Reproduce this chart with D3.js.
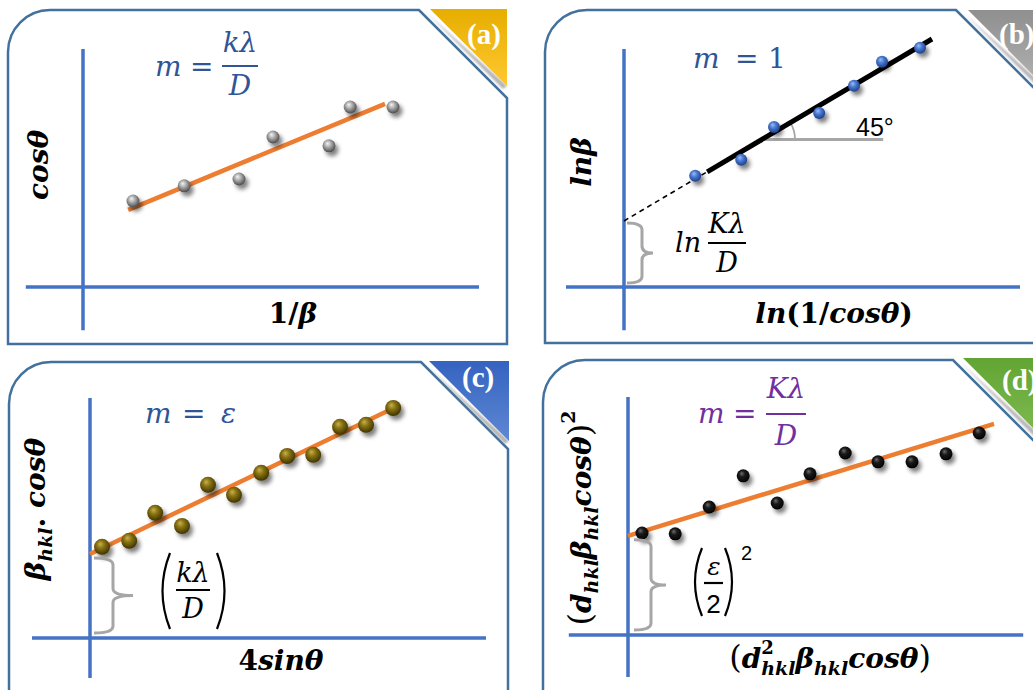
<!DOCTYPE html>
<html><head><meta charset="utf-8">
<script src="https://cdn.jsdelivr.net/npm/d3@7/dist/d3.min.js"></script>
<style>
html,body{margin:0;padding:0;background:#fff;}
svg{display:block;}
text{white-space:pre;}
</style></head><body>
<svg id="chart" width="1033" height="690"></svg>
<script>
// ---------- values ----------
const panelTags = ["(a)", "(b)", "(c)", "(d)"];

// (a) Scherrer plot: cosθ against 1/β
const invBeta   = [1.25, 2.53, 3.90, 4.75, 6.15, 6.68, 7.75];
const cosTheta  = [2.15, 2.53, 2.70, 3.75, 3.53, 4.50, 4.50];
const fitA_x = [1.13, 7.55], fitA_y = [1.93, 4.58];

// (b) modified Scherrer: lnβ against ln(1/cosθ)
const lnInvCos = [1.78, 2.93, 3.75, 4.88, 5.75, 6.45, 7.40];
const lnBeta   = [2.78, 3.18, 4.00, 4.35, 5.03, 5.63, 5.98];
const fitB_x = [2.08, 7.70], fitB_y = [2.88, 6.20];
const angleMarkB_x = [3.45, 6.48];

// (c) Williamson–Hall: β·cosθ against 4sinθ
const fourSin = [0.30, 0.98, 1.63, 2.30, 2.95, 3.60, 4.28, 4.93, 5.58, 6.25, 6.90, 7.58];
const betaCos = [2.28, 2.43, 3.13, 2.80, 3.83, 3.58, 4.13, 4.55, 4.58, 5.28, 5.33, 5.75];
const fitC_x = [0, 7.45], fitC_y = [2.10, 5.68];

// (d) size–strain plot
const d2BetaCos  = [0.35, 1.18, 2.03, 2.88, 3.73, 4.55, 5.43, 6.25, 7.10, 7.95, 8.78];
const dBetaCosSq = [2.55, 2.53, 3.20, 3.98, 3.30, 4.03, 4.55, 4.33, 4.33, 4.53, 5.05];
const fitD_x = [0, 9.15], fitD_y = [2.48, 5.28];

// ---------- styling / layout ----------
const COL = {axis:"#4472C4", frame:"#41719C", orange:"#ED7D31", brace:"#A6A6A6",
             blue:"#2F5597", purple:"#7030A0"};
const SERIF = "'DejaVu Serif', serif";
const SANS = "'Liberation Sans', Arial, sans-serif";

const svg = d3.select("#chart");
const defs = svg.append("defs");

// soft shadow under the markers
const f = defs.append("filter").attr("id","dotShadow").attr("x","-80%").attr("y","-80%").attr("width","260%").attr("height","260%");
f.append("feGaussianBlur").attr("in","SourceAlpha").attr("stdDeviation",2.2).attr("result","b");
f.append("feOffset").attr("in","b").attr("dx",3).attr("dy",4).attr("result","o");
f.append("feComponentTransfer").attr("in","o").attr("result","s")
  .append("feFuncA").attr("type","linear").attr("slope",0.5);
const fm = f.append("feMerge");
fm.append("feMergeNode").attr("in","s");
fm.append("feMergeNode").attr("in","SourceGraphic");

// tag shadow
const ts = defs.append("filter").attr("id","tagShadow").attr("x","-20%").attr("y","-20%").attr("width","140%").attr("height","140%");
ts.append("feGaussianBlur").attr("stdDeviation",0.8);

function sphere(id, stops) {
  const g = defs.append("radialGradient").attr("id", id)
    .attr("cx","45%").attr("cy","40%").attr("r","60%").attr("fx","38%").attr("fy","32%");
  stops.forEach(([o,c]) => g.append("stop").attr("offset",o).attr("stop-color",c));
}
sphere("gGray",  [["0%","#f4f4f4"],["45%","#a8a8a8"],["100%","#4a4a4a"]]);
sphere("gBlue",  [["0%","#9dbcf5"],["45%","#4677d0"],["100%","#1f3f85"]]);
sphere("gGold",  [["0%","#c9b24a"],["40%","#8a7414"],["100%","#3f3300"]]);
sphere("gBlack", [["0%","#6a6a6a"],["40%","#1a1a1a"],["100%","#000"]]);

function lin(id, c0, c1) {
  const g = defs.append("linearGradient").attr("id", id).attr("x1",0).attr("y1",0).attr("x2",0).attr("y2",1);
  g.append("stop").attr("offset","0%").attr("stop-color",c0);
  g.append("stop").attr("offset","100%").attr("stop-color",c1);
}
lin("tA","#E6AE00","#FFC830");
lin("tB","#8f8f8f","#b3b3b3");
lin("tC","#3463C0","#5F88D3");
lin("tD","#62A534","#80BA52");

const panels = [
  {key:"a", origin:[83,287],  xExt:[-1.43,9.9],  yExt:[-1.08,5.95],
   frame:{l:8,  t:10,  r:507,  b:344, cut:419}, tri:{x0:430, y:9,   x1:507,  fill:"url(#tA)"}, tagPos:[467,44]},
  {key:"b", origin:[624,287], xExt:[-1.45,9.9],  yExt:[-1.08,5.95],
   frame:{l:545,t:10,  r:1080, b:343, cut:956}, tri:{x0:968, y:10,  x1:1045, fill:"url(#tB)"}, tagPos:[999,44]},
  {key:"c", origin:[90,638],  xExt:[-1.45,9.9],  yExt:[-1.0,6.0],
   frame:{l:9,  t:362, r:508,  b:720, cut:421}, tri:{x0:429, y:361, x1:509,  fill:"url(#tC)"}, tagPos:[462,387]},
  {key:"d", origin:[628,635], xExt:[-1.48,9.88], yExt:[-1.05,5.95],
   frame:{l:543,t:360, r:1080, b:720, cut:953}, tri:{x0:963, y:358, x1:1043, fill:"url(#tD)"}, tagPos:[1002,390]},
];
panels.forEach(p => {
  p.x = d3.scaleLinear().domain([0,10]).range([p.origin[0], p.origin[0] + 400]);
  p.y = d3.scaleLinear().domain([0,10]).range([p.origin[1], p.origin[1] - 400]);
});
const P = Object.fromEntries(panels.map(p => [p.key, p]));

// ---------- helpers ----------
// Lays out a row of math runs (italic/bold/sub/sup), optionally rotated, centred on (x,y) baseline.
function mathText(parent, runs, o) {
  const g = parent.append("g").attr("transform", `translate(${o.x},${o.y}) rotate(${o.rotate||0})`);
  const inner = g.append("g");
  let x = 0, stackX = null, stackW = 0;
  runs.forEach(r => {
    const t = inner.append("text")
      .attr("x", stackX !== null ? stackX : x)
      .attr("y", r.shift || 0)
      .attr("font-family", r.font || SERIF)
      .attr("font-size", r.size || o.size)
      .attr("font-style", r.up ? "normal" : "italic")
      .attr("font-weight", (r.bold !== undefined ? r.bold : o.bold) ? "bold" : "normal")
      .attr("fill", o.color || "#000")
      .text(r.t);
    const w = t.node().getComputedTextLength();
    if (r.stack) { stackX = x; stackW = w; }
    else if (stackX !== null) { x = stackX + Math.max(stackW, w) + (r.kern||0); stackX = null; }
    else x += w + (r.kern || 0);
  });
  if (o.anchor !== "start") inner.attr("transform", `translate(${-x/2},0)`);
  return g;
}
function brace(parent, x0, yTop, yBot, x1, x2) {
  const ym = (yTop + yBot) / 2, r = 7;
  parent.append("path")
    .attr("d", `M${x0},${yTop} Q${x1},${yTop} ${x1},${yTop+r} L${x1},${ym-r} Q${x1},${ym} ${x2},${ym}
                Q${x1},${ym} ${x1},${ym+r} L${x1},${yBot-r} Q${x1},${yBot} ${x0},${yBot}`)
    .attr("fill","none").attr("stroke",COL.brace).attr("stroke-width",3);
}
function fraction(parent, cx, numBase, barY, denBase, barHalf, num, den, color, size) {
  parent.append("text").attr("x",cx).attr("y",numBase).attr("text-anchor","middle")
    .attr("font-family",SERIF).attr("font-style","italic").attr("font-size",size).attr("fill",color).text(num);
  parent.append("line").attr("x1",cx-barHalf).attr("x2",cx+barHalf).attr("y1",barY).attr("y2",barY)
    .attr("stroke",color).attr("stroke-width",2.2);
  parent.append("text").attr("x",cx).attr("y",denBase).attr("text-anchor","middle")
    .attr("font-family",SERIF).attr("font-style","italic").attr("font-size",size).attr("fill",color).text(den);
}
function plain(parent, x, y, s, o) {
  return parent.append("text").attr("x",x).attr("y",y)
    .attr("font-family", o.font || SERIF).attr("font-size", o.size)
    .attr("font-style", o.up ? "normal" : "italic").attr("fill", o.color || "#000")
    .attr("text-anchor", o.anchor || "start").text(s);
}

// ---------- frames, corner tags, axes ----------
panels.forEach((p, i) => {
  const fr = p.frame, R = 42;
  svg.append("path")
    .attr("d", `M${fr.l},${fr.b} L${fr.l},${fr.t+R} A${R},${R} 0 0 1 ${fr.l+R},${fr.t}
                L${fr.cut},${fr.t} L${fr.r},${fr.t + (fr.r - fr.cut)} L${fr.r},${fr.b} Z`)
    .attr("fill","none").attr("stroke",COL.frame).attr("stroke-width",2.5);

  const t = p.tri, h = t.x1 - t.x0;
  svg.append("path").attr("d", `M${t.x0-4},${t.y+3} L${t.x1-4},${t.y+h+3} L${t.x1},${t.y+h} Z`)
    .attr("fill","#9a9a9a").attr("opacity",0.75).attr("filter","url(#tagShadow)");
  svg.append("path").attr("d", `M${t.x0},${t.y} L${t.x1},${t.y} L${t.x1},${t.y+h} Z`).attr("fill", t.fill);
  svg.append("text").attr("x",p.tagPos[0]).attr("y",p.tagPos[1])
    .attr("font-family","'Liberation Serif', serif").attr("font-weight","bold").attr("font-size",29)
    .attr("fill","#fff").text(panelTags[i]);

  // axes
  svg.append("line").attr("x1",p.x(p.xExt[0])).attr("x2",p.x(p.xExt[1])).attr("y1",p.y(0)).attr("y2",p.y(0))
    .attr("stroke",COL.axis).attr("stroke-width",3.5);
  svg.append("line").attr("x1",p.x(0)).attr("x2",p.x(0)).attr("y1",p.y(p.yExt[0])).attr("y2",p.y(p.yExt[1]))
    .attr("stroke",COL.axis).attr("stroke-width",3.5);
});

function fitLine(p, xs, ys, color, width) {
  svg.append("line").attr("x1",p.x(xs[0])).attr("y1",p.y(ys[0])).attr("x2",p.x(xs[1])).attr("y2",p.y(ys[1]))
    .attr("stroke",color).attr("stroke-width",width);
}
function dots(p, xs, ys, fill, r) {
  svg.append("g").selectAll("circle").data(xs.map((x,i)=>[x,ys[i]])).join("circle")
    .attr("cx",d=>p.x(d[0])).attr("cy",d=>p.y(d[1])).attr("r",r)
    .attr("fill",fill).attr("filter","url(#dotShadow)");
}

const LBL = {size:28, bold:true};

// ---------- (a) ----------
{
  const p = P.a;
  fitLine(p, fitA_x, fitA_y, COL.orange, 4.5);
  dots(p, invBeta, cosTheta, "url(#gGray)", 6.5);
  plain(svg, 155, 76, "m", {size:28, color:COL.blue});
  plain(svg, 190, 76, "=", {size:28, color:COL.blue, up:true});
  fraction(svg, 240, 52, 66, 95, 18, "kλ", "D", COL.blue, 28);
  mathText(svg, [{t:"cosθ"}], {...LBL, x:48, y:165, rotate:-90});
  mathText(svg, [{t:"1/", up:true}, {t:"β"}], {...LBL, x:293, y:323});
}

// ---------- (b) ----------
{
  const p = P.b;
  const slope = (fitB_y[1]-fitB_y[0])/(fitB_x[1]-fitB_x[0]);
  const icpt = fitB_y[0] - slope*fitB_x[0];
  // extrapolation to the intercept
  svg.append("line").attr("x1",p.x(0)).attr("y1",p.y(icpt)).attr("x2",p.x(fitB_x[0])).attr("y2",p.y(fitB_y[0]))
    .attr("stroke","#000").attr("stroke-width",1.6).attr("stroke-dasharray","5,4");
  // angle marker
  const ay = icpt + slope*angleMarkB_x[0];
  svg.append("line").attr("x1",p.x(angleMarkB_x[0])).attr("x2",p.x(angleMarkB_x[1])).attr("y1",p.y(ay)).attr("y2",p.y(ay))
    .attr("stroke","#A6A6A6").attr("stroke-width",3);
  const cx = p.x(angleMarkB_x[0]), cy = p.y(ay), ar = 33, ang = Math.atan(slope);
  svg.append("path").attr("d", `M${cx+ar},${cy} A${ar},${ar} 0 0 0 ${cx+ar*Math.cos(ang)},${cy-ar*Math.sin(ang)}`)
    .attr("fill","none").attr("stroke","#A6A6A6").attr("stroke-width",1.8);
  fitLine(p, fitB_x, fitB_y, "#000", 5);
  dots(p, lnInvCos, lnBeta, "url(#gBlue)", 6);
  plain(svg, 856, 136, "45°", {size:25, font:SANS, up:true});

  plain(svg, 693, 68, "m", {size:28, color:COL.blue});
  plain(svg, 735, 68, "=", {size:28, color:COL.blue, up:true});
  plain(svg, 768, 68, "1", {size:28, color:COL.blue, up:true});

  brace(svg, p.x(0)+3, p.y(icpt)+2, p.y(0)-4, p.x(0)+18, p.x(0)+29);
  plain(svg, 675, 252, "ln", {size:27});
  fraction(svg, 727, 233, 243, 272, 19, "Kλ", "D", "#000", 27);

  mathText(svg, [{t:"lnβ"}], {...LBL, x:591, y:162, rotate:-90});
  mathText(svg, [{t:"ln"}, {t:"(1/", up:true}, {t:"cosθ"}, {t:")", up:true}], {...LBL, x:834, y:323});
}

// ---------- (c) ----------
{
  const p = P.c;
  fitLine(p, fitC_x, fitC_y, COL.orange, 4.5);
  dots(p, fourSin, betaCos, "url(#gGold)", 8);
  plain(svg, 145, 423, "m", {size:28, color:COL.blue});
  plain(svg, 182, 423, "=", {size:28, color:COL.blue, up:true});
  plain(svg, 221, 423, "ε", {size:28, color:COL.blue});

  brace(svg, p.x(0)+4, p.y(fitC_y[0])+4, p.y(0)-5, p.x(0)+23, p.x(0)+43);
  fraction(svg, 193, 582, 590, 618, 17, "kλ", "D", "#000", 27);
  svg.append("path").attr("d","M170,553 Q155,591 170,629").attr("fill","none").attr("stroke","#000").attr("stroke-width",2.2);
  svg.append("path").attr("d","M217,553 Q232,591 217,629").attr("fill","none").attr("stroke","#000").attr("stroke-width",2.2);

  mathText(svg, [{t:"β"}, {t:"hkl", size:19, shift:7}, {t:". ", up:true}, {t:"cosθ"}],
           {...LBL, x:45, y:509, rotate:-90});
  mathText(svg, [{t:"4", up:true}, {t:"sinθ"}], {...LBL, x:281, y:670});
}

// ---------- (d) ----------
{
  const p = P.d;
  fitLine(p, fitD_x, fitD_y, COL.orange, 4.5);
  dots(p, d2BetaCos, dBetaCosSq, "url(#gBlack)", 6.5);
  plain(svg, 698, 423, "m", {size:28, color:COL.purple});
  plain(svg, 733, 423, "=", {size:28, color:COL.purple, up:true});
  fraction(svg, 786, 398, 414, 445, 20, "Kλ", "D", COL.purple, 28);

  brace(svg, p.x(0)+6, p.y(fitD_y[0])+4, p.y(0)-5, p.x(0)+23, p.x(0)+38);
  plain(svg, 714, 575, "ε", {size:25, anchor:"middle"});
  svg.append("line").attr("x1",704).attr("x2",723).attr("y1",583).attr("y2",583).attr("stroke","#000").attr("stroke-width",2.2);
  plain(svg, 713.5, 613, "2", {size:26, font:SANS, up:true, anchor:"middle"});
  svg.append("path").attr("d","M702,548 Q688,582 702,616").attr("fill","none").attr("stroke","#000").attr("stroke-width",2.2);
  svg.append("path").attr("d","M725,548 Q739,582 725,616").attr("fill","none").attr("stroke","#000").attr("stroke-width",2.2);
  plain(svg, 741, 560, "2", {size:20, font:SANS, up:true});

  mathText(svg, [{t:"(", up:true, bold:false, size:32}, {t:"d"}, {t:"hkl", size:19, shift:7}, {t:"β"},
                 {t:"hkl", size:19, shift:7}, {t:"cosθ"}, {t:")", up:true, bold:false, size:32},
                 {t:"2", up:true, size:19, shift:-16}],
           {...LBL, x:591, y:518, rotate:-90});
  mathText(svg, [{t:"(", up:true, bold:false, size:32}, {t:"d"}, {t:"2", up:true, size:18, shift:-14, stack:true},
                 {t:"hkl", size:19, shift:7}, {t:"β"}, {t:"hkl", size:19, shift:7}, {t:"cosθ"},
                 {t:")", up:true, bold:false, size:32}],
           {...LBL, x:830, y:668});
}
</script>
</body></html>
